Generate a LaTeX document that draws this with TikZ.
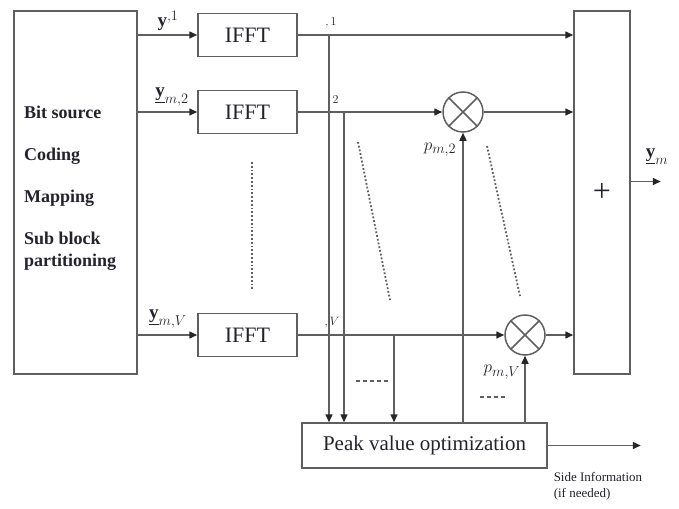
\documentclass[tikz,border=0pt]{standalone}
\usepackage{fontspec}
\setmainfont{Liberation Serif}
\usetikzlibrary{arrows.meta}
\definecolor{wirecol}{RGB}{95,95,95}
\definecolor{textcol}{RGB}{35,35,45}

\begin{document}
\begin{tikzpicture}[x=1pt, y=-1pt, line width=1.5pt,
  every node/.style={text=textcol},
  fftbox/.style={draw=wirecol, minimum width=99pt, minimum height=43pt, font=\fontsize{22}{24}\selectfont},
  mulnode/.style={draw=wirecol, circle, minimum size=40pt, inner sep=0pt},
  arr/.style={draw=wirecol, -{Triangle[length=8pt,width=7pt,fill=black!85,color=black!85]}},
  dots/.style={draw=wirecol, dotted, line width=1.8pt},
  lab/.style={font=\fontsize{19}{19}\selectfont},
  tiny/.style={font=\fontsize{12}{12}\selectfont}]
  \useasboundingbox (0,0) rectangle (679,508);
  \node[draw=wirecol, minimum width=123pt, minimum height=363pt] (src) at (75.5,192.5) {};
  \node[anchor=west, align=left, font=\fontsize{18}{22}\selectfont\bfseries] (srctxt) at (20,188)
    {Bit source\\[20pt]Coding\\[20pt]Mapping\\[20pt]Sub block\\partitioning};
  \node[draw=wirecol, minimum width=56pt, minimum height=363pt, font=\fontsize{32}{32}\selectfont] (sum) at (602,192.5) {+};
  \foreach \n/\yy in {1/35, 2/112, 3/335}{
    \node[fftbox] (ifft\n) at (247.5,\yy) {IFFT};
    \draw[arr] (src.east |- ifft\n) -- (ifft\n);
  }
  \node[lab] (lab1) at (168,21) {$\mathbf{y}^{,1}$};
  \node[lab] (lab2) at (172,97) {$\underline{\mathbf{y}}_{m,2}$};
  \node[lab] (lab3) at (168,319) {$\underline{\mathbf{y}}_{m,V}$};
  \node[tiny] (out1) at (331,23) {$,1$};
  \node[tiny] (out2) at (333,101) {$,2$};
  \node[tiny] (out3) at (332,323) {$,V$};
  \node[mulnode] (mul2) at (463,112) {};
  \node[mulnode] (mul3) at (525,335) {};
  \foreach \m in {mul2,mul3}
    \draw[wirecol] (\m.north west) -- (\m.south east) (\m.north east) -- (\m.south west);
  \draw[arr] (ifft1) -- (sum.west |- ifft1);
  \draw[arr] (ifft2) -- (mul2);
  \draw[arr] (mul2) -- (sum.west |- mul2);
  \draw[arr] (ifft3) -- (mul3);
  \draw[arr] (mul3) -- (sum.west |- mul3);
  \node[draw=wirecol, minimum width=245pt, minimum height=45pt, font=\fontsize{21}{24}\selectfont] (pk) at (424.5,445.5) {Peak value optimization};
  \coordinate (tap1) at (329,35);
  \coordinate (tap2) at (344,112);
  \coordinate (tap3) at (394,335);
  \foreach \t in {tap1,tap2,tap3}
    \draw[arr] (\t) -- (\t |- pk.north);
  \draw[arr] (mul2 |- pk.north) -- (mul2);
  \draw[arr] (mul3 |- pk.north) -- (mul3);
  \node[lab] (p2) at (440,150) {$p_{m,2}$};
  \node[lab] (p3) at (502,372) {$p_{m,V}$};
  \draw[arr] (pk.east) -- ++(93,0) coordinate (sideend);
  \node[anchor=north west, align=left, inner sep=0pt, font=\fontsize{13}{16}\selectfont] (sidetxt) at (553,472) {Side Information\\(if needed)};
  \draw[arr] ([yshift=11pt]sum.east) -- ++(30,0) coordinate (outend);
  \node[lab] (yout) at (657,157) {$\underline{\mathbf{y}}_{m}$};
  \draw[dots] (252,162) -- (252,290);
  \draw[dots] (358,142) -- (390,300);
  \draw[dots] (487,146) -- (520,296);
  \draw[draw=wirecol, dash pattern=on 4pt off 3pt] (356,381) -- (388,381);
  \draw[draw=wirecol, dash pattern=on 4pt off 3pt] (480,397) -- (508,397);
\end{tikzpicture}
\end{document}
